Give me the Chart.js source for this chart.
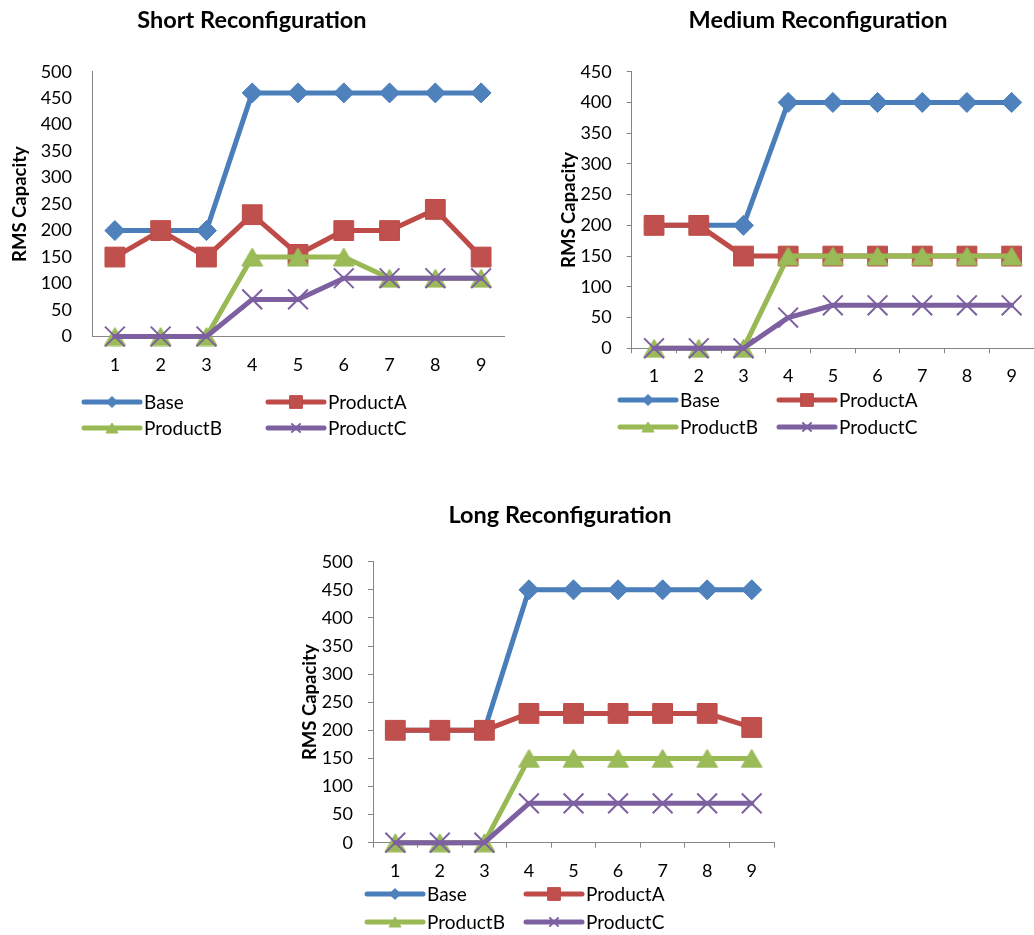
<!DOCTYPE html>
<html>
<head>
<meta charset="utf-8">
<title>RMS Capacity by Reconfiguration Speed</title>
<script src="https://cdn.jsdelivr.net/npm/chart.js@4.4.1/dist/chart.umd.min.js"></script>
<style>
  html, body { margin: 0; padding: 0; background: #ffffff; overflow: hidden; width: 1034px; height: 935px; }
  canvas { position: absolute; }
</style>
</head>
<body>
<canvas id="chartShort" width="520" height="450" style="left:0px;top:0px;width:520px;height:450px"></canvas>
<canvas id="chartMedium" width="520" height="450" style="left:530px;top:0px;width:520px;height:450px"></canvas>
<canvas id="chartLong" width="500" height="445" style="left:290px;top:490px;width:500px;height:445px"></canvas>
<script>
// ---- data ----
const periods = ['1', '2', '3', '4', '5', '6', '7', '8', '9'];
const seriesNames = ['Base', 'ProductA', 'ProductB', 'ProductC'];

const shortBase     = [200, 200, 200, 460, 460, 460, 460, 460, 460];
const shortProductA = [150, 200, 150, 230, 155, 200, 200, 240, 150];
const shortProductB = [0, 0, 0, 150, 150, 150, 110, 110, 110];
const shortProductC = [0, 0, 0, 70, 70, 110, 110, 110, 110];

const mediumBase     = [200, 200, 200, 400, 400, 400, 400, 400, 400];
const mediumProductA = [200, 200, 150, 150, 150, 150, 150, 150, 150];
const mediumProductB = [0, 0, 0, 150, 150, 150, 150, 150, 150];
const mediumProductC = [0, 0, 0, 50, 70, 70, 70, 70, 70];

const longBase     = [200, 200, 200, 450, 450, 450, 450, 450, 450];
const longProductA = [200, 200, 200, 230, 230, 230, 230, 230, 205];
const longProductB = [0, 0, 0, 150, 150, 150, 150, 150, 150];
const longProductC = [0, 0, 0, 70, 70, 70, 70, 70, 70];

// ---- styling ----
const FONT = "Lato, 'Open Sans', 'Liberation Sans', sans-serif";
const AXIS = '#868686';
Chart.defaults.font.family = FONT;

// Triangle marker centred on its bounding box (the built-in one is centred on its centroid)
function triangleMarker(w, h, fill, stroke) {
  const c = document.createElement('canvas');
  c.width = w + 2;
  c.height = h + 2;
  const g = c.getContext('2d');
  g.beginPath();
  g.moveTo(c.width / 2, 1);
  g.lineTo(c.width - 1, c.height - 1);
  g.lineTo(1, c.height - 1);
  g.closePath();
  g.fillStyle = fill;
  g.fill();
  g.strokeStyle = stroke;
  g.lineWidth = 1;
  g.stroke();
  return c;
}

const seriesStyles = [
  { line: '#4A7EBB', fill: '#4F81BD', shape: 'rectRot', legendShape: 'rectRot', radius: 10, border: 1, legendRadius: 5.5 },
  { line: '#BE4B48', fill: '#C0504D', shape: 'rect', legendShape: 'rect', radius: 14, border: 1, legendRadius: 9 },
  { line: '#98B954', fill: '#9BBB59', shape: triangleMarker(21, 18, '#9BBB59', '#98B954'),
    legendShape: triangleMarker(12, 10, '#9BBB59', '#98B954'), radius: 11, border: 1, legendRadius: 7 },
  { line: '#7D60A0', fill: '#7D60A0', shape: 'crossRot', legendShape: 'crossRot', radius: 14, border: 2, legendRadius: 6.5 }
];

// Title and two-column legend drawn around the plot area
const excelFrame = {
  id: 'excelFrame',
  afterDraw(chart, _args, o) {
    const ctx = chart.ctx;
    ctx.save();
    ctx.fillStyle = '#000';
    ctx.textAlign = 'center';
    ctx.textBaseline = 'middle';
    ctx.font = `bold ${o.titleSize}px ${FONT}`;
    ctx.fillText(o.title, o.titleX, o.titleY);

    ctx.font = `${o.legendSize}px ${FONT}`;
    chart.data.datasets.forEach((ds, i) => {
      const st = seriesStyles[i];
      const x = o.legendCols[i % 2];
      const y = o.legendRows[Math.floor(i / 2)];
      ctx.strokeStyle = ds.borderColor;
      ctx.lineWidth = ds.borderWidth;
      ctx.lineCap = 'round';
      ctx.beginPath();
      ctx.moveTo(x, y);
      ctx.lineTo(x + o.symbolLen, y);
      ctx.stroke();
      ctx.fillStyle = st.fill;
      ctx.strokeStyle = st.line;
      ctx.lineWidth = st.border;
      ctx.lineCap = 'butt';
      Chart.helpers.drawPoint(ctx, { pointStyle: st.legendShape, radius: st.legendRadius, borderWidth: st.border, rotation: 0 },
        x + o.symbolLen / 2, y);
      ctx.fillStyle = '#000';
      ctx.textAlign = 'left';
      ctx.fillText(ds.label, x + o.symbolLen + 4, y + 1);
    });
    ctx.restore();
  }
};

function buildChart(canvasId, seriesValues, opt) {
  const datasets = seriesValues.map((values, i) => {
    const st = seriesStyles[i];
    return {
      label: seriesNames[i],
      data: values,
      borderColor: st.line,
      backgroundColor: st.fill,
      borderWidth: 5,
      borderCapStyle: 'round',
      borderJoinStyle: 'round',
      tension: 0,
      pointStyle: st.shape,
      pointRadius: st.radius,
      pointBackgroundColor: st.fill,
      pointBorderColor: st.line,
      pointBorderWidth: st.border,
      clip: false,
      order: seriesValues.length - i
    };
  });

  return new Chart(document.getElementById(canvasId), {
    type: 'line',
    data: { labels: periods, datasets },
    options: {
      responsive: false,
      animation: false,
      events: [],
      layout: { padding: { left: 0, top: opt.area.top, right: opt.w - opt.area.right, bottom: 0 } },
      plugins: {
        legend: { display: false },
        tooltip: { enabled: false },
        title: { display: false },
        excelFrame: {
          title: opt.title, titleX: opt.titleX, titleY: opt.titleY, titleSize: 23.5,
          legendSize: 19, legendCols: opt.legendCols, legendRows: opt.legendRows, symbolLen: 56
        }
      },
      scales: {
        x: {
          type: 'category',
          offset: true,
          grid: { offset: true, drawOnChartArea: false, drawTicks: opt.tickMarks, tickLength: 5, color: AXIS, lineWidth: 1 },
          border: { color: AXIS, width: 1 },
          ticks: { font: { size: 18 }, color: '#000', padding: opt.xPad, maxRotation: 0, autoSkip: false },
          afterFit(scale) { scale.height = opt.h - opt.area.bottom; }
        },
        y: {
          min: 0,
          max: opt.max,
          ticks: { stepSize: 50, font: { size: 18 }, color: '#000', padding: opt.yPad },
          grid: { drawOnChartArea: false, drawTicks: opt.tickMarks, tickLength: 5, color: AXIS, lineWidth: 1 },
          border: { color: AXIS, width: 1 },
          title: {
            display: true, text: 'RMS Capacity', color: '#000',
            font: { size: 18.5, weight: 'bold' }, padding: { top: opt.axisTitlePad, bottom: 0 }
          },
          afterFit(scale) { scale.width = opt.area.left; }
        }
      }
    },
    plugins: [excelFrame]
  });
}

buildChart('chartShort', [shortBase, shortProductA, shortProductB, shortProductC], {
  w: 520, h: 450, max: 500,
  area: { left: 92, top: 71.7, right: 504.5, bottom: 336.5 },
  tickMarks: false, xPad: 18, yPad: 20, axisTitlePad: 9,
  title: 'Short Reconfiguration', titleX: 252, titleY: 20,
  legendCols: [84, 268], legendRows: [402, 428]
});

buildChart('chartMedium', [mediumBase, mediumProductA, mediumProductB, mediumProductC], {
  w: 520, h: 450, max: 450,
  area: { left: 101.7, top: 71.7, right: 511.2, bottom: 348.3 },
  tickMarks: true, xPad: 12, yPad: 15, axisTitlePad: 28,
  title: 'Medium Reconfiguration', titleX: 288, titleY: 20,
  legendCols: [90, 249], legendRows: [400, 427]
});

buildChart('chartLong', [longBase, longProductA, longProductB, longProductC], {
  w: 500, h: 445, max: 500,
  area: { left: 83, top: 71.7, right: 487.7, bottom: 352.7 },
  tickMarks: true, xPad: 13, yPad: 15, axisTitlePad: 9,
  title: 'Long Reconfiguration', titleX: 270, titleY: 25,
  legendCols: [77, 236], legendRows: [404, 432]
});
</script>
</body>
</html>
